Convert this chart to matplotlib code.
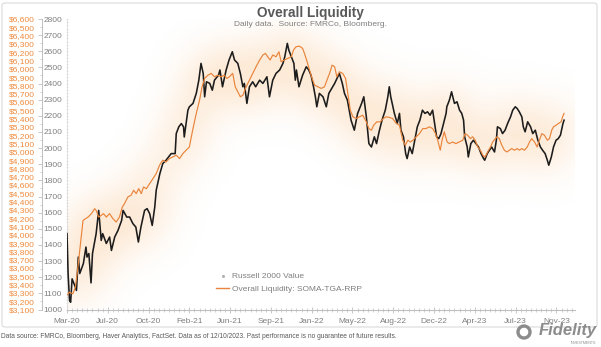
import numpy as np
import pandas as pd
import matplotlib
matplotlib.use("Agg")
import matplotlib.pyplot as plt
import matplotlib.dates as mdates
from matplotlib.ticker import MultipleLocator, FixedLocator, FuncFormatter
from matplotlib.patches import FancyBboxPatch, Ellipse
from matplotlib.lines import Line2D

plt.rcParams["font.family"] = ["Liberation Sans", "DejaVu Sans"]

# ========= data =========
# Russell 2000 Value index level (right-hand grey scale)
r2000v_dates = [
    "2020-03-13", "2020-03-16", "2020-03-20", "2020-03-23", "2020-03-27", "2020-04-03", "2020-04-08", "2020-04-13", "2020-04-17", "2020-04-27",
    "2020-05-04", "2020-05-07", "2020-05-12", "2020-05-18", "2020-05-22", "2020-06-01", "2020-06-08", "2020-06-15", "2020-06-19", "2020-06-29",
    "2020-07-08", "2020-07-13", "2020-07-22", "2020-07-31", "2020-08-10", "2020-08-14", "2020-08-24", "2020-09-01", "2020-09-10", "2020-09-18",
    "2020-09-25", "2020-10-02", "2020-10-12", "2020-10-19", "2020-10-26", "2020-11-02", "2020-11-09", "2020-11-13", "2020-11-23", "2020-12-01",
    "2020-12-10", "2020-12-24", "2021-01-04", "2021-01-07", "2021-01-14", "2021-01-21", "2021-01-27", "2021-01-29", "2021-02-08", "2021-02-12",
    "2021-02-22", "2021-03-03", "2021-03-10", "2021-03-16", "2021-03-22", "2021-03-26", "2021-03-31", "2021-04-09", "2021-04-16", "2021-04-22",
    "2021-05-03", "2021-05-07", "2021-05-14", "2021-05-24", "2021-06-01", "2021-06-10", "2021-06-16", "2021-06-25", "2021-07-02", "2021-07-09",
    "2021-07-13", "2021-07-20", "2021-07-27", "2021-08-05", "2021-08-13", "2021-08-24", "2021-09-02", "2021-09-13", "2021-09-20", "2021-09-29",
    "2021-10-08", "2021-10-18", "2021-10-27", "2021-11-01", "2021-11-08", "2021-11-12", "2021-11-19", "2021-11-26", "2021-11-30", "2021-12-03",
    "2021-12-10", "2021-12-20", "2021-12-30", "2022-01-06", "2022-01-12", "2022-01-19", "2022-01-24", "2022-01-28", "2022-02-04", "2022-02-14",
    "2022-02-23", "2022-03-02", "2022-03-18", "2022-03-31", "2022-04-08", "2022-04-14", "2022-04-22", "2022-05-02", "2022-05-11", "2022-05-20",
    "2022-05-31", "2022-06-06", "2022-06-13", "2022-06-20", "2022-06-27", "2022-07-05", "2022-07-11", "2022-07-18", "2022-07-26", "2022-08-04",
    "2022-08-11", "2022-08-15", "2022-08-19", "2022-08-29", "2022-09-06", "2022-09-12", "2022-09-16", "2022-09-23", "2022-09-29", "2022-10-03",
    "2022-10-10", "2022-10-17", "2022-10-24", "2022-10-31", "2022-11-07", "2022-11-14", "2022-11-21", "2022-11-28", "2022-12-05", "2022-12-12",
    "2022-12-19", "2022-12-23", "2022-12-29", "2023-01-04", "2023-01-11", "2023-01-18", "2023-01-20", "2023-01-27", "2023-02-02", "2023-02-10",
    "2023-02-17", "2023-02-24", "2023-03-02", "2023-03-07", "2023-03-10", "2023-03-17", "2023-03-20", "2023-03-27", "2023-04-03", "2023-04-10",
    "2023-04-17", "2023-04-24", "2023-05-01", "2023-05-04", "2023-05-11", "2023-05-17", "2023-05-23", "2023-05-31", "2023-06-05", "2023-06-08",
    "2023-06-16", "2023-06-22", "2023-06-29", "2023-07-06", "2023-07-14", "2023-07-20", "2023-07-27", "2023-08-01", "2023-08-07", "2023-08-14",
    "2023-08-18", "2023-08-23", "2023-08-30", "2023-09-07", "2023-09-13", "2023-09-20", "2023-09-27", "2023-10-04", "2023-10-10", "2023-10-17",
    "2023-10-23", "2023-10-27", "2023-11-03", "2023-11-09", "2023-11-16", "2023-11-22", "2023-11-28", "2023-12-05", "2023-12-08",
]
r2000v_values = [
    1470, 1223, 1056, 1045, 1190, 1150, 1118, 1325, 1223, 1285,
    1387, 1325, 1347, 1165, 1347, 1470, 1614, 1428, 1470, 1409,
    1449, 1366, 1449, 1490, 1552, 1614, 1573, 1573, 1532, 1511,
    1418, 1511, 1614, 1625, 1594, 1521, 1635, 1739, 1842, 1904,
    1925, 1966, 1966, 2090, 2132, 2152, 2132, 2069, 2235, 2256,
    2277, 2339, 2421, 2525, 2463, 2318, 2411, 2401, 2359, 2421,
    2452, 2484, 2380, 2484, 2546, 2597, 2546, 2525, 2463, 2380,
    2401, 2277, 2380, 2411, 2380, 2421, 2401, 2442, 2318, 2421,
    2463, 2484, 2525, 2566, 2649, 2608, 2566, 2525, 2421, 2484,
    2380, 2452, 2504, 2484, 2452, 2380, 2318, 2256, 2339, 2318,
    2256, 2339, 2401, 2463, 2401, 2339, 2297, 2173, 2111, 2215,
    2277, 2318, 2194, 2028, 2007, 2070, 2028, 2101, 2173, 2235,
    2318, 2380, 2318, 2215, 2153, 2215, 2111, 2070, 1966, 1935,
    2007, 1966, 2049, 2132, 2173, 2235, 2215, 2225, 2204, 2235,
    2132, 2070, 2059, 2090, 2153, 2215, 2256, 2297, 2349, 2277,
    2287, 2235, 2215, 2173, 2070, 2007, 1945, 2028, 2049, 2028,
    2007, 1966, 1935, 1925, 1966, 1987, 2007, 1976, 2049, 2132,
    2121, 2090, 2111, 2153, 2194, 2235, 2256, 2246, 2225, 2194,
    2132, 2101, 2163, 2132, 2090, 2111, 2049, 2007, 1987, 1966,
    1925, 1894, 1945, 2007, 2049, 2059, 2080, 2153, 2173,
]

# Overall liquidity, SOMA - TGA - RRP, $bn (left-hand orange scale)
liq_dates = [
    "2020-03-13", "2020-03-20", "2020-03-29", "2020-04-05", "2020-04-12", "2020-04-19", "2020-04-26", "2020-05-03", "2020-05-10", "2020-05-19",
    "2020-05-28", "2020-06-01", "2020-06-08", "2020-06-15", "2020-06-21", "2020-06-29", "2020-07-08", "2020-07-17", "2020-07-26", "2020-08-04",
    "2020-08-12", "2020-08-18", "2020-08-27", "2020-09-05", "2020-09-12", "2020-09-19", "2020-09-26", "2020-10-03", "2020-10-09", "2020-10-17",
    "2020-10-26", "2020-11-04", "2020-11-13", "2020-11-22", "2020-12-01", "2020-12-10", "2020-12-19", "2020-12-28", "2021-01-07", "2021-01-16",
    "2021-01-25", "2021-02-03", "2021-02-12", "2021-02-21", "2021-03-03", "2021-03-12", "2021-03-19", "2021-03-26", "2021-04-04", "2021-04-13",
    "2021-04-22", "2021-05-01", "2021-05-10", "2021-05-19", "2021-05-26", "2021-06-02", "2021-06-11", "2021-06-18", "2021-06-25", "2021-07-02",
    "2021-07-09", "2021-07-18", "2021-07-27", "2021-08-05", "2021-08-14", "2021-08-24", "2021-09-02", "2021-09-09", "2021-09-15", "2021-09-22",
    "2021-09-29", "2021-10-08", "2021-10-16", "2021-10-22", "2021-10-31", "2021-11-09", "2021-11-19", "2021-11-25", "2021-12-02", "2021-12-11",
    "2021-12-20", "2021-12-25", "2021-12-31", "2022-01-08", "2022-01-15", "2022-01-22", "2022-01-31", "2022-02-09", "2022-02-18", "2022-03-04",
    "2022-03-11", "2022-03-18", "2022-03-24", "2022-03-31", "2022-04-09", "2022-04-17", "2022-04-23", "2022-04-30", "2022-05-07", "2022-05-16",
    "2022-05-25", "2022-06-03", "2022-06-13", "2022-06-20", "2022-06-27", "2022-07-03", "2022-07-12", "2022-07-21", "2022-07-30", "2022-08-06",
    "2022-08-15", "2022-08-24", "2022-09-03", "2022-09-12", "2022-09-21", "2022-09-28", "2022-10-05", "2022-10-12", "2022-10-19", "2022-10-28",
    "2022-11-06", "2022-11-15", "2022-11-24", "2022-12-03", "2022-12-12", "2022-12-20", "2022-12-26", "2023-01-02", "2023-01-07", "2023-01-13",
    "2023-01-21", "2023-01-27", "2023-02-05", "2023-02-14", "2023-02-23", "2023-03-05", "2023-03-11", "2023-03-18", "2023-03-26", "2023-04-01",
    "2023-04-08", "2023-04-15", "2023-04-22", "2023-04-29", "2023-05-05", "2023-05-12", "2023-05-20", "2023-05-26", "2023-06-02", "2023-06-07",
    "2023-06-13", "2023-06-20", "2023-06-27", "2023-07-04", "2023-07-11", "2023-07-17", "2023-07-25", "2023-08-01", "2023-08-07", "2023-08-14",
    "2023-08-21", "2023-08-29", "2023-09-04", "2023-09-10", "2023-09-18", "2023-09-25", "2023-10-01", "2023-10-08", "2023-10-15", "2023-10-23",
    "2023-10-29", "2023-11-04", "2023-11-09", "2023-11-16", "2023-11-22", "2023-11-30", "2023-12-04", "2023-12-08",
]
liq_values = [
    3275, 3308, 3289, 3368, 3611, 3893, 4173, 4195, 4214, 4255,
    4315, 4294, 4214, 4234, 4255, 4214, 4255, 4195, 4154, 4214,
    4335, 4376, 4455, 4477, 4537, 4496, 4556, 4496, 4576, 4556,
    4617, 4677, 4737, 4838, 4899, 4877, 4918, 4937, 4959, 4918,
    4978, 5019, 5058, 5260, 5462, 5622, 5783, 5884, 5923, 5945,
    5904, 5923, 5904, 5923, 5884, 5904, 5945, 5783, 5723, 5663,
    5682, 5783, 5863, 5945, 6024, 6106, 6166, 6186, 6145, 6106,
    6166, 6145, 6205, 6085, 6106, 6125, 6145, 6227, 6265, 6273,
    6246, 6186, 6106, 5985, 5884, 5803, 5783, 5764, 5783, 5945,
    6044, 6024, 5904, 5964, 5945, 5884, 5704, 5501, 5422, 5402,
    5422, 5441, 5361, 5280, 5260, 5320, 5361, 5361, 5402, 5422,
    5414, 5402, 5342, 5320, 5140, 5079, 5140, 5118, 5140, 5181,
    5219, 5280, 5280, 5301, 5280, 5219, 5140, 5019, 5140, 5241,
    5118, 5099, 5118, 5099, 5118, 5140, 5219, 5200, 5159, 5181,
    5140, 5058, 5019, 4959, 4937, 4998, 5058, 5118, 5159, 5181,
    5159, 5079, 5019, 4998, 5019, 5039, 5019, 5039, 5019, 5039,
    5019, 5058, 5118, 5159, 5118, 5058, 5140, 5219, 5200, 5140,
    5159, 5260, 5301, 5320, 5340, 5361, 5422, 5462,
]

x_start = "2020-03-13"
x_end = "2024-01-07"
tick_step = "112D"
r2000_lim = (1000, 2800)
liq_lim = (3100, 6600)

title = "Overall Liquidity"
subtitle = "Daily data.  Source: FMRCo, Bloomberg."
legend_labels = ["Russell 2000 Value", "Overall Liquidity: SOMA-TGA-RRP"]
footer = ("Data source: FMRCo, Bloomberg, Haver Analytics, FactSet. Data as of 12/10/2023. "
          "Past performance is no guarantee of future results.")

# ========= style =========
W, H, DPI = 601, 347, 100
GREY_TXT = "#7f7f7f"
DARK_TXT = "#595959"
ORANGE_TXT = "#ee8a3c"
ORANGE_LINE = "#e9843a"
AX_LINE = "#bfbfbf"
GLOW_RGB = (0.98, 0.70, 0.42)


def px_box(x0, y0, x1, y1):
    """figure-fraction rect from pixel corners (y measured from the top)"""
    return [x0 / W, 1 - y1 / H, (x1 - x0) / W, (y1 - y0) / H]


def glow_layer(rd, rv, ld, lv, xlim, w_px, h_px, sigma=20.0):
    # draw both series fat on a scratch canvas, then gaussian-blur the ink
    gfig = plt.figure(figsize=(w_px / DPI, h_px / DPI), dpi=DPI)
    gax = gfig.add_axes([0, 0, 1, 1])
    gax.set_axis_off()
    gax.plot(rd, rv, color="black", lw=6)
    gax.set_xlim(xlim)
    gax.set_ylim(r2000_lim)
    gax2 = gax.twinx()
    gax2.set_axis_off()
    gax2.plot(ld, lv, color="black", lw=6)
    gax2.set_ylim(liq_lim)
    gfig.canvas.draw()
    ink = 1.0 - np.asarray(gfig.canvas.buffer_rgba())[..., 0].astype(float) / 255.0
    plt.close(gfig)

    r = int(3 * sigma)
    k = np.exp(-0.5 * (np.arange(-r, r + 1) / sigma) ** 2)
    k /= k.sum()
    g = np.pad(ink, r)
    g = np.apply_along_axis(lambda v: np.convolve(v, k, mode="same"), 1, g)
    g = np.apply_along_axis(lambda v: np.convolve(v, k, mode="same"), 0, g)
    g = g[r:-r, r:-r]
    return g / g.max()


def main():
    rd = pd.to_datetime(r2000v_dates)
    ld = pd.to_datetime(liq_dates)
    x0, x1 = pd.Timestamp(x_start), pd.Timestamp(x_end)

    fig = plt.figure(figsize=(W / DPI, H / DPI), dpi=DPI)

    # plot area
    ax = fig.add_axes(px_box(67, 19, 575, 309.5))
    ax.set_xlim(x0, x1)
    ax.set_ylim(r2000_lim)

    g = glow_layer(rd, r2000v_values, ld, liq_values, (x0, x1), 508, 290.5)
    img = np.zeros(g.shape + (4,))
    img[..., :3] = GLOW_RGB
    img[..., 3] = 0.26 * np.clip(g * 1.15, 0, 1) ** 0.9
    ax.imshow(img, extent=(mdates.date2num(x0), mdates.date2num(x1), *r2000_lim),
              aspect="auto", origin="upper", interpolation="bilinear", zorder=0)

    ax.plot(rd, r2000v_values, color="#1c1c1c", lw=1.15, zorder=3)

    for s in ("top", "right"):
        ax.spines[s].set_visible(False)
    ax.spines["left"].set_color("#dcdcdc")
    ax.spines["left"].set_linewidth(0.6)
    ax.spines["bottom"].set_color(AX_LINE)
    ax.spines["bottom"].set_linewidth(0.8)
    ax.yaxis.set_major_locator(MultipleLocator(100))
    ax.yaxis.set_minor_locator(MultipleLocator(20))
    ax.tick_params(axis="y", which="both", direction="inout", length=2,
                   width=0.5, color="#dcdcdc", labelleft=False)

    ticks = pd.date_range(x0, x1, freq=tick_step)
    ax.xaxis.set_major_locator(FixedLocator(mdates.date2num(ticks)))
    ax.xaxis.set_minor_locator(FixedLocator(mdates.date2num(pd.date_range(x0, x1, freq="14D"))))
    ax.xaxis.set_major_formatter(mdates.DateFormatter("%b-%y"))
    ax.tick_params(axis="x", which="major", direction="inout", length=4, width=0.6,
                   color=AX_LINE, labelsize=6, labelcolor=GREY_TXT, pad=4)
    ax.tick_params(axis="x", which="minor", direction="inout", length=2.5, width=0.5,
                   color=AX_LINE)

    # liquidity on its own scale, labels pushed out to the far left
    axo = ax.twinx()
    axo.plot(ld, liq_values, color=ORANGE_LINE, lw=0.85, zorder=4)
    axo.set_ylim(liq_lim)
    axo.set_xlim(x0, x1)
    for s in axo.spines.values():
        s.set_visible(False)
    axo.yaxis.tick_left()
    axo.spines["left"].set_position(("outward", 21.5))
    axo.yaxis.set_major_locator(MultipleLocator(100))
    axo.yaxis.set_major_formatter(FuncFormatter(lambda v, _: f"${v:,.0f}"))
    axo.tick_params(axis="y", which="both", length=0, pad=1.5, labelsize=6,
                    labelcolor=ORANGE_TXT)

    # grey index scale: spine at x=42, ticks pointing left, labels to the right
    axl = fig.add_axes(px_box(0, 19, 42, 309.5))
    axl.patch.set_visible(False)
    for s in ("top", "left", "bottom"):
        axl.spines[s].set_visible(False)
    axl.spines["right"].set_color(AX_LINE)
    axl.spines["right"].set_linewidth(0.7)
    axl.set_xticks([])
    axl.set_ylim(r2000_lim)
    axl.yaxis.tick_right()
    axl.yaxis.set_major_locator(MultipleLocator(100))
    axl.yaxis.set_minor_locator(MultipleLocator(50))
    axl.tick_params(axis="y", which="major", direction="in", length=3, width=0.6,
                    color=AX_LINE, pad=1, labelsize=6, labelcolor=GREY_TXT)
    axl.tick_params(axis="y", which="minor", direction="in", length=1.5, width=0.5,
                    color=AX_LINE)

    # titles
    fig.text(310 / W, 1 - 13 / H, title, ha="center", va="center", fontsize=9.8,
             fontweight="bold", color=DARK_TXT)
    fig.text(310 / W, 1 - 24.5 / H, subtitle, ha="center", va="center", fontsize=6,
             color=GREY_TXT)

    handles = [
        Line2D([], [], ls="none", marker="o", ms=1.2, color="#b0b0b0"),
        Line2D([], [], color=ORANGE_LINE, lw=1.0),
    ]
    fig.legend(handles, legend_labels, loc="center left", bbox_to_anchor=(216 / W, 1 - 283 / H),
               frameon=False, fontsize=6, labelcolor=GREY_TXT, handlelength=1.6,
               handletextpad=0.3, labelspacing=0.6, borderpad=0, borderaxespad=0)

    # outer frame, footer and logo
    fig.add_artist(FancyBboxPatch((2 / W, 1 - 327 / H), 595 / W, 324 / H,
                                  boxstyle="round,pad=0,rounding_size=0.006",
                                  transform=fig.transFigure, fill=False,
                                  ec="#dadada", lw=0.8))
    fig.text(1 / W, 1 - 337 / H, footer, ha="left", va="center", fontsize=4.8, color=DARK_TXT)
    fig.add_artist(Ellipse((524 / W, 1 - 332 / H), 12 / W, 12 / H, transform=fig.transFigure,
                           fill=False, ec="#8c8c8c", lw=2.4))
    fig.text(597 / W, 1 - 331 / H, "Fidelity", ha="right", va="center", fontsize=12,
             fontweight="bold", fontstyle="italic", color="#8c8c8c")
    fig.text(596 / W, 1 - 343.5 / H, "INVESTMENTS", ha="right", va="center", fontsize=2.6,
             color="#8c8c8c")

    fig.savefig("out.png", dpi=DPI)
    plt.close(fig)


if __name__ == "__main__":
    main()
